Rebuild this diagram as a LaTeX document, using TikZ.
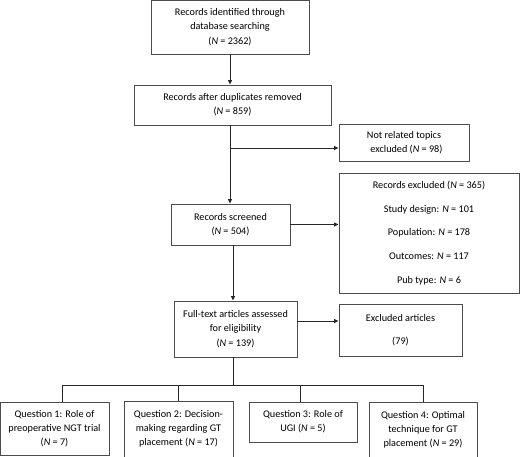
\documentclass[tikz,border=0pt]{standalone}
\usepackage{fontspec}
\setmainfont{Carlito}
\usetikzlibrary{arrows.meta,calc}
\begin{document}
\begin{tikzpicture}[x=1pt,y=-1pt,
  box/.style={draw=black!70,line width=0.9pt,align=center,inner sep=0pt,font=\fontsize{10.2}{14.2}\selectfont},
  conn/.style={draw=black!85,line width=0.9pt},
  arr/.style={conn,-{Triangle[length=4.5pt,width=4pt]}}]
\useasboundingbox (0,0) rectangle (520,457);
\node[box,minimum width=158pt,minimum height=54pt] (b1) at (230,27) {Records identified through\\database searching\\(\textit{N} = 2362)};
\node[box,minimum width=197pt,minimum height=40pt] (b2) at (232.5,105) {Records after duplicates removed\\(\textit{N} = 859)};
\node[box,minimum width=130pt,minimum height=37pt] (b3) at (404,142.5) {Not related topics\\\hspace*{5pt}excluded (\textit{N} = 98)};
\node[box,minimum width=119pt,minimum height=41pt] (b4) at (230.5,224.5) {Records screened\\(\textit{N} = 504)};
\node[box,minimum width=180pt,minimum height=120pt,font=\fontsize{10.2}{23.6}\selectfont] (b5) at (429,233) {Records excluded (\textit{N} = 365)\\Study design: \textit{N} = 101\\Population: \textit{N} = 178\\Outcomes: \textit{N} = 117\\Pub type: \textit{N} = 6};
\node[box,minimum width=123pt,minimum height=56pt] (b6) at (235.5,329) {Full-text articles assessed\\for eligibility\\(\textit{N} = 139)};
\node[box,minimum width=123pt,minimum height=52pt,font=\fontsize{10.2}{23.6}\selectfont] (b7) at (400.5,330) {Excluded articles\\(79)};
\node[box,minimum width=109pt,minimum height=53pt] (q1) at (54.5,428.5) {Question 1: Role of\\preoperative NGT trial\\(\textit{N} = 7)};
\node[box,minimum width=109pt,minimum height=56pt] (q2) at (178.5,429) {Question 2: Decision-\\making regarding GT\\placement (\textit{N} = 17)};
\node[box,minimum width=108pt,minimum height=40pt] (q3) at (303,422) {Question 3: Role of\\UGI (\textit{N} = 5)};
\node[box,minimum width=108pt,minimum height=55pt] (q4) at (423,429.5) {Question 4: Optimal\\technique for GT\\placement (\textit{N} = 29)};
\draw[arr] (b1.south) -- (b1.south |- b2.north);
\coordinate (b2s) at ([xshift=-2.5pt]b2.south);
\draw[arr] (b2s) -- (b2s |- b4.north);
\coordinate (b3in) at ([yshift=-5.5pt]b3.west);
\coordinate (j1) at (b2s |- b3in);
\draw[arr] (j1) -- (b3in);
\draw[arr] (b4.east) -- (b4.east -| b5.west);
\draw[arr] ([xshift=2.5pt]b4.south) -- ([xshift=2.5pt]b4.south |- b6.north);
\coordinate (b6e) at ([yshift=8pt]b6.east);
\draw[arr] (b6e) -- (b6e -| b7.west);
\coordinate (b6s) at ([xshift=-2.5pt]b6.south);
\coordinate (bus) at (b6s |- 0,385);
\draw[conn] (b6s) -- (bus);
\coordinate (q1n) at ([xshift=7.5pt]q1.north);
\coordinate (q2n) at ([xshift=-0.5pt]q2.north);
\coordinate (q3n) at ([xshift=-3pt]q3.north);
\coordinate (q4n) at ([xshift=0.5pt]q4.north);
\draw[conn] (q1n) |- (q4n |- bus) -- (q4n);
\draw[conn] (q2n) -- (q2n |- bus);
\draw[conn] (q3n) -- (q3n |- bus);
\end{tikzpicture}
\end{document}
